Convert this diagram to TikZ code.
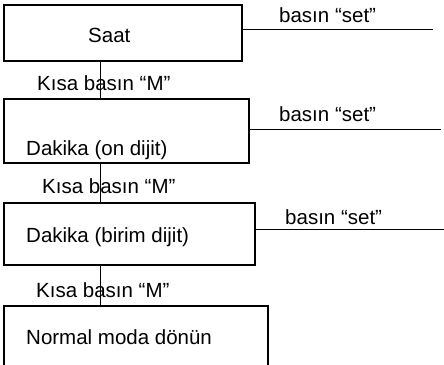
\documentclass[tikz,border=0pt]{standalone}
\usepackage{fontspec}
\setmainfont{Liberation Sans}
\begin{document}
\begin{tikzpicture}[x=1pt,y=-1pt,
  box/.style={draw, line width=1.3pt, rectangle, inner sep=0pt},
  txt/.style={anchor=base west, inner sep=0pt, font=\fontsize{20.5}{24}\selectfont},
  link/.style={line width=1pt}]
\useasboundingbox (0,0) rectangle (444,364);
\node[box, minimum width=238pt, minimum height=56pt] (b1) at (123,33) {};
\node[box, minimum width=245pt, minimum height=64pt] (b2) at (126.5,131) {};
\node[box, minimum width=251pt, minimum height=62pt] (b3) at (129.5,234) {};
\node[box, minimum width=264pt, minimum height=70pt] (b4) at (136,341) {};
\node[txt] (t1) at (88,42) {Saat};
\node[txt] (t2) at (26,155) {Dakika (on dijit)};
\node[txt] (t3) at (26,242) {Dakika (birim dijit)};
\node[txt] (t4) at (26,344) {Normal moda dönün};
\node[txt] (s1) at (279,22) {basın “set”};
\node[txt] (s2) at (279,121) {basın “set”};
\node[txt] (s3) at (285,224) {basın “set”};
\node[txt] (k1) at (37,90) {Kısa basın “M”};
\node[txt] (k2) at (42,193) {Kısa basın “M”};
\node[txt] (k3) at (36,297) {Kısa basın “M”};
\coordinate (cx) at (100,0);
\coordinate (e1) at (433,29);
\coordinate (e2) at (441,129);
\coordinate (e3) at (444,229);
\draw[link] (b1.south -| cx) -- (b2.north -| cx);
\draw[link] (b2.south -| cx) -- (b3.north -| cx);
\draw[link] (b3.south -| cx) -- (b4.north -| cx);
\draw[link] (b1.east |- e1) -- (e1);
\draw[link] (b2.east |- e2) -- (e2);
\draw[link] (b3.east |- e3) -- (e3);
\end{tikzpicture}
\end{document}
